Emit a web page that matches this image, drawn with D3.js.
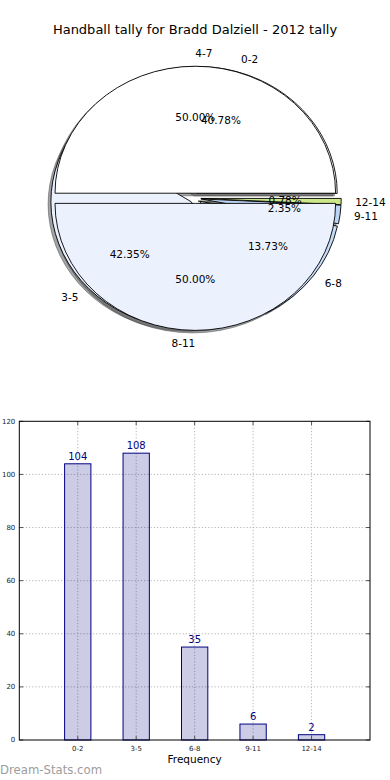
<!DOCTYPE html>
<html lang="en">
<head>
<meta charset="utf-8">
<title>Handball tally</title>
<script src="https://d3js.org/d3.v7.min.js"></script>
<style>
    body { margin: 0; background: #fff; }
    svg { display: block; font-family: "DejaVu Sans", sans-serif; }
</style>
</head>
<body>
<script>
var categories = ["0-2", "3-5", "6-8", "9-11", "12-14"];
var counts = [104, 108, 35, 6, 2];
var halfLabels = ["4-7", "8-11"];
var halfValues = [1, 1];
var sliceColors = ["#ffffff", "#ebf2fe", "#c5dbf7", "#bcd5f6", "#cde88b"];
var yTicks = [0, 20, 40, 60, 80, 100, 120];

var width = 390, height = 780;
var svg = d3.select("body").append("svg")
    .attr("width", width)
    .attr("height", height);

svg.append("text")
    .attr("x", 195)
    .attr("y", 34)
    .attr("text-anchor", "middle")
    .attr("font-size", 13)
    .text("Handball tally for Bradd Dalziell - 2012 tally");

// ---- pie (two pies drawn on the same axes, like the original) ----
var cx = 195.3, cy = 198.3, rx = 140.3, ry = 127, explode = 0.04;
var R = 100;
var pie = d3.pie().sort(null)
    .startAngle(Math.PI / 2)
    .endAngle(Math.PI / 2 - 2 * Math.PI);
var arc = d3.arc().innerRadius(0).outerRadius(R);

function wedges(values, labels) {
    var total = d3.sum(values);
    return pie(values).map(function (d, i) {
        // matplotlib style angle, counter clockwise from 3 o'clock
        var theta = Math.PI / 2 - (d.startAngle + d.endAngle) / 2;
        return {
            arc: d,
            color: sliceColors[i % sliceColors.length],
            label: labels[i],
            theta: theta,
            ox: explode * Math.cos(theta),
            oy: explode * Math.sin(theta),
            pct: (100 * d.value / total).toFixed(2) + "%"
        };
    });
}

var inner = wedges(counts, categories);
var halves = wedges(halfValues, halfLabels);
var all = inner.concat(halves);

function px(u) { return cx + u * rx; }
function py(v) { return cy - v * ry; }

function shade(c) {
    var r = d3.rgb(c);
    return d3.rgb(r.r * 0.3, r.g * 0.3, r.b * 0.3).toString();
}

var pieG = svg.append("g");

// shadows sit under every wedge
pieG.selectAll("path.shadow")
    .data(all)
    .enter()
    .append("path")
    .attr("class", "shadow")
    .attr("d", function (d) { return arc(d.arc); })
    .attr("transform", function (d) {
        return "translate(" + (px(d.ox) - 0.02 * rx) + "," + (py(d.oy) + 0.02 * ry) + ") scale(" + (rx / R) + "," + (ry / R) + ")";
    })
    .attr("fill", function (d) { return shade(d.color); })
    .attr("fill-opacity", 0.5)
    .attr("stroke", function (d) { return shade(d.color); })
    .attr("stroke-opacity", 0.5)
    .attr("stroke-width", 1)
    .attr("vector-effect", "non-scaling-stroke");

pieG.selectAll("path.wedge")
    .data(all)
    .enter()
    .append("path")
    .attr("class", "wedge")
    .attr("d", function (d) { return arc(d.arc); })
    .attr("transform", function (d) {
        return "translate(" + px(d.ox) + "," + py(d.oy) + ") scale(" + (rx / R) + "," + (ry / R) + ")";
    })
    .attr("fill", function (d) { return d.color; })
    .attr("stroke", "#000")
    .attr("stroke-width", 0.9)
    .attr("stroke-linejoin", "round")
    .attr("vector-effect", "non-scaling-stroke");

pieG.selectAll("text.lab")
    .data(all)
    .enter()
    .append("text")
    .attr("class", "lab")
    .attr("x", function (d) { return px(d.ox + 1.1 * Math.cos(d.theta)); })
    .attr("y", function (d) { return py(d.oy + 1.1 * Math.sin(d.theta)); })
    .attr("dy", "0.36em")
    .attr("text-anchor", function (d) {
        return (d.ox + 1.1 * Math.cos(d.theta)) > 0 ? "start" : "end";
    })
    .attr("font-size", 10.5)
    .text(function (d) { return d.label; });

pieG.selectAll("text.pct")
    .data(all)
    .enter()
    .append("text")
    .attr("class", "pct")
    .attr("x", function (d) { return px(d.ox + 0.6 * Math.cos(d.theta)); })
    .attr("y", function (d) { return py(d.oy + 0.6 * Math.sin(d.theta)); })
    .attr("dy", "0.36em")
    .attr("text-anchor", "middle")
    .attr("font-size", 10.5)
    .text(function (d) { return d.pct; });

// ---- bar chart ----
var axL = 19.3, axR = 370, axT = 421.3, axB = 740;
var x = d3.scaleLinear().domain([-1, 5]).range([axL, axR]);
var y = d3.scaleLinear().domain([0, 120]).range([axB, axT]);
var barW = 0.45;

var barG = svg.append("g");

barG.selectAll("line.vgrid")
    .data(categories)
    .enter()
    .append("line")
    .attr("x1", function (d, i) { return x(i); })
    .attr("x2", function (d, i) { return x(i); })
    .attr("y1", axT)
    .attr("y2", axB)
    .attr("stroke", "#b5b5b5")
    .attr("stroke-dasharray", "1.2,2")
    .attr("stroke-width", 1);

barG.selectAll("line.hgrid")
    .data(yTicks.slice(1, -1))
    .enter()
    .append("line")
    .attr("x1", axL)
    .attr("x2", axR)
    .attr("y1", function (d) { return y(d); })
    .attr("y2", function (d) { return y(d); })
    .attr("stroke", "#b5b5b5")
    .attr("stroke-dasharray", "1.2,2")
    .attr("stroke-width", 1);

barG.selectAll("rect.bar")
    .data(counts)
    .enter()
    .append("rect")
    .attr("x", function (d, i) { return x(i - barW / 2); })
    .attr("width", x(barW) - x(0))
    .attr("y", function (d) { return y(d); })
    .attr("height", function (d) { return y(0) - y(d); })
    .attr("fill", "navy")
    .attr("fill-opacity", 0.2)
    .attr("stroke", "navy")
    .attr("stroke-width", 1);

barG.selectAll("text.val")
    .data(counts)
    .enter()
    .append("text")
    .attr("x", function (d, i) { return x(i); })
    .attr("y", function (d) { return y(d) - 4; })
    .attr("text-anchor", "middle")
    .attr("font-size", 10)
    .attr("fill", "navy")
    .text(function (d) { return d; });

// tick marks on all four sides, pointing in
yTicks.forEach(function (t) {
    barG.append("line").attr("x1", axL).attr("x2", axL + 4)
        .attr("y1", y(t)).attr("y2", y(t)).attr("stroke", "#555");
    barG.append("line").attr("x1", axR).attr("x2", axR - 4)
        .attr("y1", y(t)).attr("y2", y(t)).attr("stroke", "#555");
});
categories.forEach(function (c, i) {
    barG.append("line").attr("x1", x(i)).attr("x2", x(i))
        .attr("y1", axB).attr("y2", axB - 4).attr("stroke", "#555");
    barG.append("line").attr("x1", x(i)).attr("x2", x(i))
        .attr("y1", axT).attr("y2", axT + 4).attr("stroke", "#555");
});

barG.append("rect")
    .attr("x", axL)
    .attr("y", axT)
    .attr("width", axR - axL)
    .attr("height", axB - axT)
    .attr("fill", "none")
    .attr("stroke", "#000")
    .attr("stroke-width", 1);

barG.selectAll("text.ytick")
    .data(yTicks)
    .enter()
    .append("text")
    .attr("x", axL - 4)
    .attr("y", function (d) { return y(d); })
    .attr("dy", "0.35em")
    .attr("text-anchor", "end")
    .attr("font-size", 7)
    .attr("fill", "#222")
    .text(function (d) { return d; });

barG.selectAll("text.xtick")
    .data(categories)
    .enter()
    .append("text")
    .attr("x", function (d, i) { return x(i); })
    .attr("y", 750.5)
    .attr("text-anchor", "middle")
    .attr("font-size", 7)
    .attr("fill", "#222")
    .text(function (d) { return d; });

svg.append("text")
    .attr("x", (axL + axR) / 2)
    .attr("y", 763.3)
    .attr("text-anchor", "middle")
    .attr("font-size", 10.5)
    .text("Frequency");

svg.append("text")
    .attr("x", 0)
    .attr("y", 773.5)
    .attr("font-size", 11.7)
    .attr("fill", "#9d9d9d")
    .text("Dream-Stats.com");
</script>
</body>
</html>
